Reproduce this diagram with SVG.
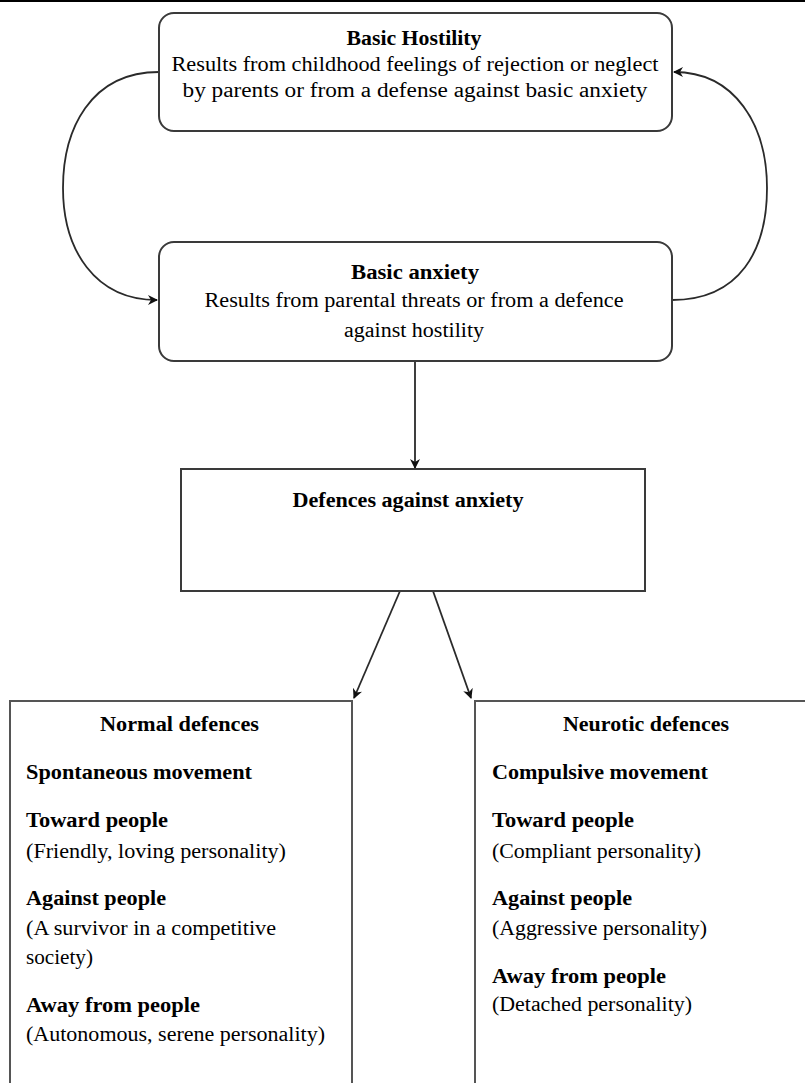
<svg xmlns="http://www.w3.org/2000/svg" width="805" height="1083" viewBox="0 0 805 1083">
<style>
.box{fill:#fff;stroke:#3a3a3a;stroke-width:2}
.lbox{fill:#fff;stroke:#555;stroke-width:2}
.conn{fill:none;stroke:#2a2a2a;stroke-width:1.8}
text{font-family:'Liberation Serif',serif;font-size:20px;fill:#000}
.b{font-weight:bold}
.c{text-anchor:middle}
</style>
<defs>
<marker id="ah" markerWidth="10" markerHeight="10" refX="9" refY="5" orient="auto" markerUnits="userSpaceOnUse">
<path d="M0,0 L10,5 L0,10 L3,5 Z" fill="#111"/>
</marker>
</defs>
<rect x="0" y="0" width="805" height="2" fill="#000"/>
<g id="connectors">
<path class="conn" d="M159,72 C90,72 63,130 63,188 C63,250 95,300 157,300" marker-end="url(#ah)"/>
<path class="conn" d="M672,300 C740,300 767,250 767,188 C767,125 735,72 674,72" marker-end="url(#ah)"/>
<line class="conn" x1="415" y1="361" x2="415" y2="468" marker-end="url(#ah)"/>
<line class="conn" x1="400" y1="591" x2="354" y2="698" marker-end="url(#ah)"/>
<line class="conn" x1="433" y1="591" x2="471" y2="698" marker-end="url(#ah)"/>
</g>
<g id="basic-hostility">
<rect class="box" x="159" y="13" width="513" height="118" rx="15"/>
<text class="b c" x="414" y="45" textLength="135" lengthAdjust="spacingAndGlyphs">Basic Hostility</text>
<text class="c" x="415" y="71" textLength="487" lengthAdjust="spacingAndGlyphs">Results from childhood feelings of rejection or neglect</text>
<text class="c" x="415" y="97" textLength="465" lengthAdjust="spacingAndGlyphs">by parents or from a defense against basic anxiety</text>
</g>
<g id="basic-anxiety">
<rect class="box" x="159" y="242" width="513" height="119" rx="15"/>
<text class="b c" x="415" y="279" textLength="128" lengthAdjust="spacingAndGlyphs">Basic anxiety</text>
<text class="c" x="414" y="307" textLength="419" lengthAdjust="spacingAndGlyphs">Results from parental threats or from a defence</text>
<text class="c" x="414" y="337" textLength="140" lengthAdjust="spacingAndGlyphs">against hostility</text>
</g>
<g id="defences">
<rect class="box" x="181" y="469" width="464" height="122"/>
<text class="b c" x="408" y="507" textLength="231" lengthAdjust="spacingAndGlyphs">Defences against anxiety</text>
</g>
<g id="normal-defences">
<path class="lbox" d="M10,1090 L10,701 L352,701 L352,1090"/>
<text class="b" x="100" y="731" textLength="159" lengthAdjust="spacingAndGlyphs">Normal defences</text>
<text class="b" x="26" y="779" textLength="226" lengthAdjust="spacingAndGlyphs">Spontaneous movement</text>
<text class="b" x="26" y="827" textLength="142" lengthAdjust="spacingAndGlyphs">Toward people</text>
<text x="26" y="858" textLength="260" lengthAdjust="spacingAndGlyphs">(Friendly, loving personality)</text>
<text class="b" x="26" y="905" textLength="140" lengthAdjust="spacingAndGlyphs">Against people</text>
<text x="26" y="935" textLength="250" lengthAdjust="spacingAndGlyphs">(A survivor in a competitive</text>
<text x="26" y="964" textLength="67" lengthAdjust="spacingAndGlyphs">society)</text>
<text class="b" x="26" y="1012" textLength="174" lengthAdjust="spacingAndGlyphs">Away from people</text>
<text x="26" y="1041" textLength="299" lengthAdjust="spacingAndGlyphs">(Autonomous, serene personality)</text>
</g>
<g id="neurotic-defences">
<path class="lbox" d="M475,1090 L475,701 L810,701"/>
<text class="b" x="563" y="731" textLength="166" lengthAdjust="spacingAndGlyphs">Neurotic defences</text>
<text class="b" x="492" y="779" textLength="216" lengthAdjust="spacingAndGlyphs">Compulsive movement</text>
<text class="b" x="492" y="827" textLength="142" lengthAdjust="spacingAndGlyphs">Toward people</text>
<text x="492" y="858" textLength="209" lengthAdjust="spacingAndGlyphs">(Compliant personality)</text>
<text class="b" x="492" y="905" textLength="140" lengthAdjust="spacingAndGlyphs">Against people</text>
<text x="492" y="935" textLength="215" lengthAdjust="spacingAndGlyphs">(Aggressive personality)</text>
<text class="b" x="492" y="983" textLength="174" lengthAdjust="spacingAndGlyphs">Away from people</text>
<text x="492" y="1011" textLength="200" lengthAdjust="spacingAndGlyphs">(Detached personality)</text>
</g>
</svg>
